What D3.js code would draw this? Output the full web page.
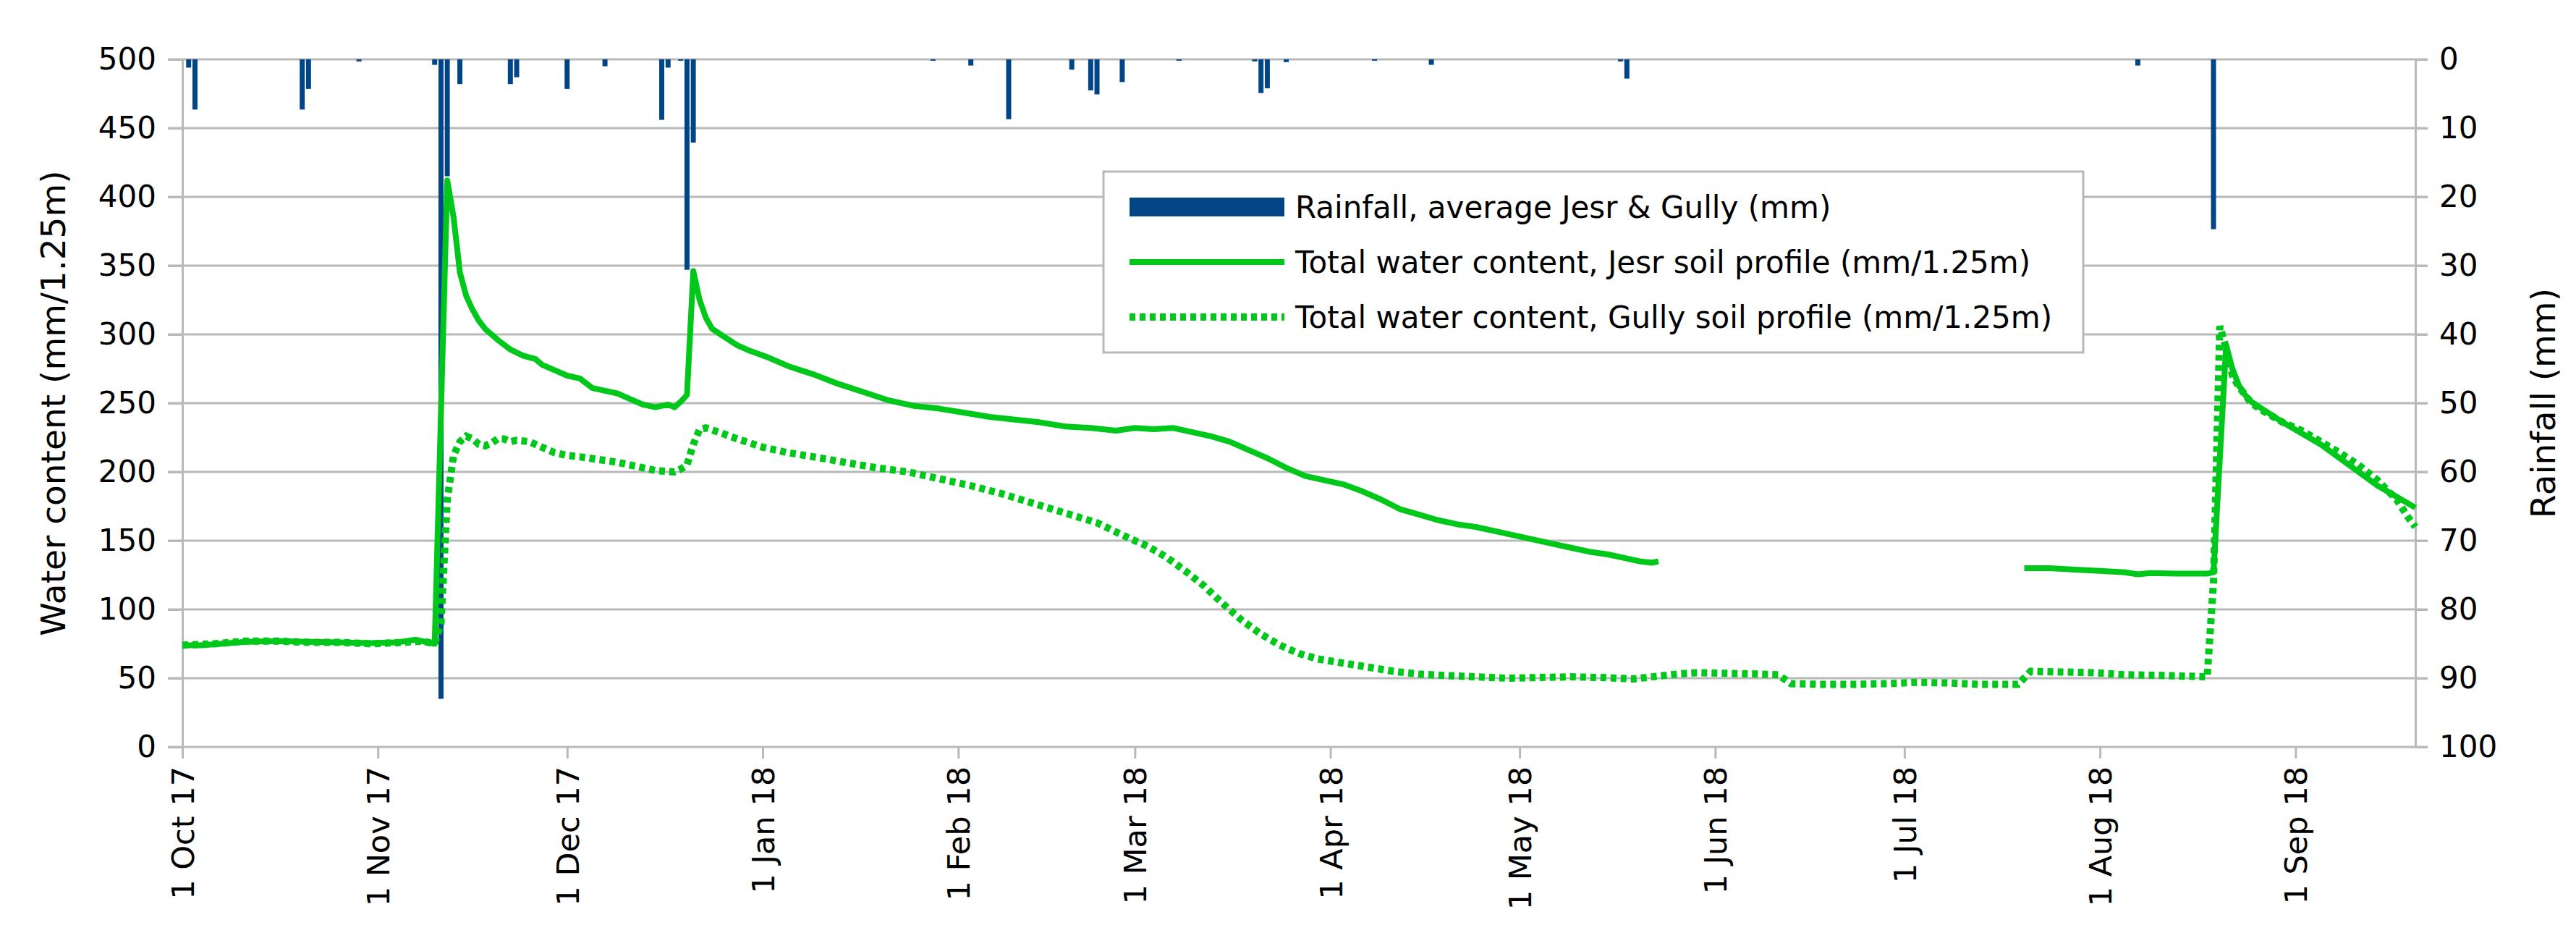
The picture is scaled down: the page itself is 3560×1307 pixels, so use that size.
<!DOCTYPE html>
<html>
<head>
<meta charset="utf-8">
<script src="https://cdn.jsdelivr.net/npm/d3@7"></script>
<style>
  body { margin: 0; background: #fff; }
  text { font-family: "DejaVu Sans", sans-serif; fill: #000; }
</style>
</head>
<body>
<div id="chart"></div>
<script>
// Days are counted from 1 Oct 2017
const startDate = new Date(2017, 9, 1);

// Rainfall, average Jesr & Gully (mm), only the days with rain
const rainDay = [1, 2, 19, 20, 28, 40, 41, 42, 44, 52, 53, 61, 67, 76, 77, 79, 80, 81,
  119, 125, 131, 141, 144, 145, 149, 158, 170, 171, 172, 175, 189, 198, 228, 229, 310, 322];
const rainMm = [1.2, 7.3, 7.3, 4.3, 0.3, 0.8, 93, 17, 3.6, 3.6, 2.6, 4.3, 1.0, 8.8, 1.2, 0.2, 30.6, 12.1,
  0.2, 0.9, 8.7, 1.5, 4.5, 5.1, 3.3, 0.2, 0.3, 4.9, 4.2, 0.4, 0.2, 0.8, 0.3, 2.8, 0.9, 24.7];

// Total water content, Jesr soil profile (null = no data)
const jesrDay = [0, 3, 6, 10, 15, 20, 25, 30, 34, 37, 39, 40, 42, 43, 44, 45, 46, 47, 48, 50, 52, 54,
  56, 57, 59, 61, 63, 65, 67, 69, 71, 73, 75, 77, 78, 79, 80, 81, 82, 83, 84, 86, 88, 90, 93, 96,
  100, 104, 108, 112, 116, 120, 124, 128, 132, 136, 140, 144, 148, 151, 154, 157, 160, 163, 166,
  169, 172, 175, 178, 181, 184, 187, 190, 193, 196, 199, 202, 205, 208, 211, 214, 217, 220, 223,
  226, 229, 231, 233, 234, 260,
  292, 296, 300, 304, 308, 310, 312, 316, 321, 322, 324, 325, 326, 327, 328, 330, 333, 336, 339,
  342, 345, 348, 351, 354];
const jesrValue = [74, 74, 75, 76.5, 77, 76.5, 76, 75.5, 76, 78, 76, 75, 412, 385, 345, 328, 318, 310, 304, 296, 289, 284.5,
  282, 278, 274, 270, 268, 261, 259, 257, 253, 249, 247, 249, 247, 251, 256, 346, 325, 312, 304, 298, 292, 288, 283, 277,
  271, 264, 258, 252, 248, 246, 243, 240, 238, 236, 233, 232, 230, 232, 231, 232, 229, 226, 222,
  216, 210, 203, 197, 194, 191, 186, 180, 173, 169, 165, 162, 160, 157, 154, 151, 148, 145, 142,
  140, 137, 135, 134, 135, null,
  130, 130, 129, 128, 127, 125.5, 126.5, 126, 126, 127, 292, 275, 263, 256, 251, 245, 236, 228, 220,
  210, 200, 190, 182, 174];

// Total water content, Gully soil profile
const gullyDay = [0, 5, 10, 15, 20, 25, 30, 35, 38, 40, 41, 42, 43, 44, 45, 46, 47, 48, 49, 50, 51, 52, 53,
  55, 57, 59, 61, 63, 66, 69, 72, 75, 78, 79, 80, 81, 82, 83, 85, 88, 92, 96, 100, 105, 110, 115,
  120, 125, 130, 135, 140, 145, 150, 153, 156, 159, 162, 165, 168, 171, 174, 177, 180, 184, 188,
  192, 196, 200, 205, 210, 215, 220, 225, 230, 233, 237, 240, 245, 250, 253, 255, 260, 265, 270,
  275, 280, 285, 291, 293, 298, 303, 308, 314, 321, 322, 323, 324, 325, 326, 327, 328, 330, 333,
  336, 339, 342, 345, 348, 351, 353, 354];
const gullyValue = [74, 75, 77, 77, 76, 76, 75, 76, 77, 75, 90, 180, 212, 222, 226, 224, 220, 219, 221, 224, 224, 222, 223,
  222, 218, 214, 212, 211, 209, 207, 204, 201, 200, 202, 205, 220, 231, 232, 229, 224, 218, 214, 211, 207, 203, 200,
  195, 190, 184, 177, 170, 163, 152, 146, 138, 128, 117, 104, 92, 82, 74, 68, 64, 61, 58,
  55, 53, 52, 51, 50, 50.5, 51, 50.5, 49.5, 51, 53, 54, 53.5, 53, 52.5, 46, 45.5, 45.5, 46,
  47, 46.5, 45.5, 45.5, 55, 54.5, 54, 52.5, 52, 51, 120, 306, 290, 270, 262, 256, 250, 244, 236,
  230, 222, 214, 205, 194, 180, 166, 160];

const leftTicks = [0, 50, 100, 150, 200, 250, 300, 350, 400, 450, 500];
const rightTicks = [0, 10, 20, 30, 40, 50, 60, 70, 80, 90, 100];
const monthLabels = ['1 Oct 17', '1 Nov 17', '1 Dec 17', '1 Jan 18', '1 Feb 18', '1 Mar 18',
  '1 Apr 18', '1 May 18', '1 Jun 18', '1 Jul 18', '1 Aug 18', '1 Sep 18'];
const legendLabels = ['Rainfall, average Jesr & Gully (mm)',
  'Total water content, Jesr soil profile (mm/1.25m)',
  'Total water content, Gully soil profile (mm/1.25m)'];

// Set up SVG
const svgWidth = 3560;
const svgHeight = 1307;
const margin = {top: 82, right: 222, bottom: 275, left: 252};
const width = svgWidth - margin.left - margin.right;
const height = svgHeight - margin.top - margin.bottom;

const blue = '#004586';
const green = '#00c81a';
const gridColor = '#b9b9b9';

const svg = d3.select('#chart').append('svg')
  .attr('width', svgWidth)
  .attr('height', svgHeight);

const chartGroup = svg.append('g')
  .attr('transform', `translate(${margin.left}, ${margin.top})`);

const day = d => d3.timeDay.offset(startDate, d);

// scales
const x = d3.scaleTime().domain([startDate, day(354)]).range([0, width]);
const yLeft = d3.scaleLinear().domain([0, 500]).range([height, 0]);
const yRain = d3.scaleLinear().domain([0, 100]).range([0, height]);

// horizontal gridlines, running into the tick marks on both sides
chartGroup.append('g').selectAll('line')
  .data(leftTicks)
  .join('line')
  .attr('x1', -20)
  .attr('x2', width + 17)
  .attr('y1', d => yLeft(d))
  .attr('y2', d => yLeft(d))
  .attr('stroke', gridColor)
  .attr('stroke-width', 3);

// left axis
const leftAxis = chartGroup.append('g')
  .call(d3.axisLeft(yLeft).tickValues(leftTicks).tickSize(20).tickPadding(16).tickSizeOuter(0))
  .attr('font-size', 42)
  .attr('font-family', 'DejaVu Sans');

// right axis (rainfall, reversed)
const rightAxis = chartGroup.append('g')
  .attr('transform', `translate(${width}, 0)`)
  .call(d3.axisRight(yRain).tickValues(rightTicks).tickSize(17).tickPadding(16).tickSizeOuter(0))
  .attr('font-size', 42)
  .attr('font-family', 'DejaVu Sans');

// bottom axis
const monthDates = monthLabels.map((m, i) => d3.timeMonth.offset(startDate, i));
const xAxis = chartGroup.append('g')
  .attr('transform', `translate(0, ${height})`)
  .call(d3.axisBottom(x).tickValues(monthDates).tickFormat((d, i) => monthLabels[i]).tickSize(16).tickSizeOuter(0))
  .attr('font-size', 43)
  .attr('font-family', 'DejaVu Sans');
xAxis.select('.domain').remove();
xAxis.selectAll('text')
  .attr('transform', 'rotate(-90)')
  .attr('text-anchor', 'end')
  .attr('x', -27)
  .attr('y', 0)
  .attr('dy', '0.36em');

[leftAxis, rightAxis, xAxis].forEach(a => {
  a.selectAll('.domain').attr('stroke', gridColor).attr('stroke-width', 3);
  a.selectAll('.tick line').attr('stroke', gridColor).attr('stroke-width', 3);
  a.selectAll('text').attr('fill', '#000');
});

// rainfall bars hanging from the top
const bw = (x(day(1)) - x(day(0))) * 0.8;
chartGroup.append('g').selectAll('rect')
  .data(rainDay.map((d, i) => ({d: d, v: rainMm[i]})))
  .join('rect')
  .attr('x', r => x(day(r.d)) - bw / 2)
  .attr('y', yRain(0))
  .attr('width', bw)
  .attr('height', r => yRain(r.v) - yRain(0))
  .attr('fill', blue);

// water content lines
const line = d3.line()
  .defined(p => p.v !== null)
  .x(p => x(day(p.d)))
  .y(p => yLeft(p.v));

chartGroup.append('path')
  .datum(jesrDay.map((d, i) => ({d: d, v: jesrValue[i]})))
  .attr('d', line)
  .attr('fill', 'none')
  .attr('stroke', green)
  .attr('stroke-width', 8)
  .attr('stroke-linejoin', 'round');

chartGroup.append('path')
  .datum(gullyDay.map((d, i) => ({d: d, v: gullyValue[i]})))
  .attr('d', line)
  .attr('fill', 'none')
  .attr('stroke', green)
  .attr('stroke-width', 10)
  .attr('stroke-dasharray', '8,6');

// axis titles
svg.append('text')
  .attr('transform', `translate(90, ${margin.top + height / 2}) rotate(-90)`)
  .attr('text-anchor', 'middle')
  .attr('font-size', 47)
  .text('Water content (mm/1.25m)');

svg.append('text')
  .attr('transform', `translate(3531, ${margin.top + height / 2}) rotate(-90)`)
  .attr('text-anchor', 'middle')
  .attr('font-size', 47)
  .text('Rainfall (mm)');

// legend
const legend = svg.append('g');
legend.append('rect')
  .attr('x', 1525)
  .attr('y', 237)
  .attr('width', 1354)
  .attr('height', 250)
  .attr('fill', '#fff')
  .attr('stroke', gridColor)
  .attr('stroke-width', 3);

const rowY = [286, 362, 438];
legend.append('rect')
  .attr('x', 1561).attr('y', rowY[0] - 13)
  .attr('width', 214).attr('height', 26)
  .attr('fill', blue);
legend.append('line')
  .attr('x1', 1561).attr('x2', 1775)
  .attr('y1', rowY[1]).attr('y2', rowY[1])
  .attr('stroke', green).attr('stroke-width', 8);
legend.append('line')
  .attr('x1', 1561).attr('x2', 1775)
  .attr('y1', rowY[2]).attr('y2', rowY[2])
  .attr('stroke', green).attr('stroke-width', 10)
  .attr('stroke-dasharray', '8,6');

legend.selectAll('text.lab')
  .data(legendLabels)
  .join('text')
  .attr('class', 'lab')
  .attr('x', 1790)
  .attr('y', (d, i) => rowY[i])
  .attr('dy', '0.36em')
  .attr('font-size', 42)
  .text(d => d);
</script>
</body>
</html>
